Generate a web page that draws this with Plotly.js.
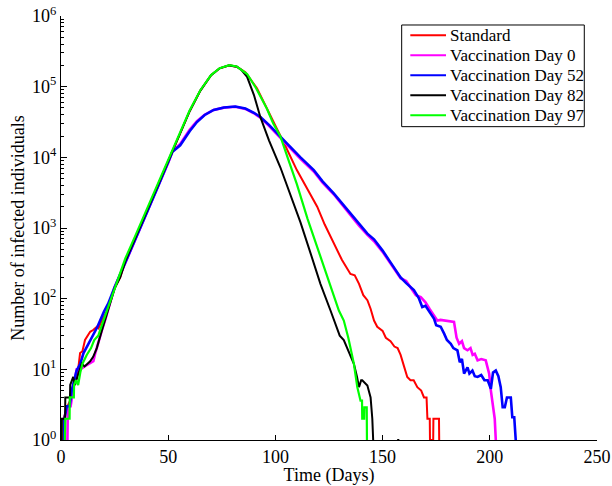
<!DOCTYPE html>
<html>
<head>
<meta charset="utf-8">
<script src="https://cdn.plot.ly/plotly-3.0.1.min.js"></script>
<style>html,body{margin:0;padding:0;background:#fff;}#chart{width:612px;height:486px;}</style>
</head>
<body>
<div id="chart"></div>
<script>
// Series names
const seriesNames = ["Standard", "Vaccination Day 0", "Vaccination Day 52", "Vaccination Day 82", "Vaccination Day 97"];
const seriesColors = ["#ff0000", "#ff00ff", "#0000ff", "#000000", "#00ff00"];

// Standard (red)
const stdDays = [1, 1.2, 3, 5, 5.7, 7, 8, 8.9, 10, 11.2, 13.6, 15, 16.7, 17.5, 19, 21.3, 23, 25, 27.6, 30, 35, 40, 45, 50, 55, 60, 65, 70, 74, 78.5, 82, 86, 91.4, 96, 100.8, 105, 110, 115, 119.5, 123, 127.2, 131, 135, 137, 139, 141, 142.9, 144.4, 146, 147.5, 150, 151.5, 153.7, 155.5, 157, 158.4, 160, 161.5, 163, 164.5, 166.2, 168, 169.3, 170.5, 170.9, 172.0, 172.1, 173.6, 173.7, 176.3, 176.4];
const stdInfected = [1, 2, 3, 4, 5, 8, 10, 17, 18, 26, 34, 36, 40, 38, 49, 66, 90, 140, 200, 330, 750, 1700, 3900, 8800, 20000, 45000, 88000, 145000, 182000, 200000, 192000, 160000, 95000, 50000, 25000, 13800, 6600, 3500, 2000, 1120, 600, 355, 224, 214, 162, 112, 95, 72, 49, 40, 35, 28, 25, 21, 20, 16, 11, 7.8, 7, 7, 5.6, 5, 4, 4, 2, 2, 1, 1, 2, 2, 1];

// Vaccination Day 0 (magenta)
const vac0Days = [3, 3.2, 4.5, 5, 6, 7.3, 9, 11, 13, 15.1, 16, 17.4, 19, 21, 23, 25, 30, 35, 40, 45, 50, 52, 55.6, 58, 60, 63.4, 67, 71.2, 76, 81.3, 86, 90, 93, 97, 100.8, 107, 111.7, 117.9, 122, 127.2, 131, 135, 139, 142.9, 146, 150, 154, 158.4, 161, 164, 165.5, 167.8, 170, 172, 174, 175.5, 177, 180, 183.3, 184.5, 185.7, 187, 188, 189.6, 191, 192, 193, 194.3, 196, 198.1, 199.7, 200.5, 201.5, 202.3, 202.8];
const vac0Infected = [1, 3, 3, 4, 6, 10, 10, 11, 12, 13, 17, 23, 35, 55, 90, 145, 320, 740, 1680, 3750, 8400, 12200, 15500, 20000, 24500, 32500, 40000, 46800, 50500, 52000, 48500, 42000, 36500, 28000, 21000, 13200, 9500, 6300, 4400, 3000, 2150, 1520, 1080, 800, 650, 460, 300, 195, 178, 132, 112, 105, 89, 71, 56, 49, 50, 48, 47, 28, 23, 25, 20, 18.6, 20, 16, 16.6, 13.4, 14, 13.4, 8.7, 5, 2.9, 2, 1];

// Vaccination Day 52 (blue)
const vac52Days = [1.5, 1.6, 2.7, 4, 5, 7.3, 9, 10.5, 12.8, 15, 17, 20, 22, 25, 30, 35, 40, 45, 50, 52, 55.6, 58, 60, 63.4, 67, 71.2, 76, 81.3, 86, 90, 93, 97, 100.8, 107, 111.7, 117.9, 122, 127.2, 131, 135, 139, 142.9, 146, 150, 154, 158.4, 161, 164.6, 167, 168.5, 170, 172.4, 174, 175, 177.1, 178.7, 180, 181.8, 183, 184.9, 186, 187, 188, 189.6, 190.5, 191.9, 193, 194.3, 196, 197.5, 199, 200.5, 201.5, 202.8, 204, 205.1, 206, 207, 208, 209.8, 210.5, 211.4, 212.1];
const vac52Infected = [1, 2, 3, 3, 5, 9.6, 12, 17, 23, 30, 40, 65, 85, 145, 320, 730, 1650, 3700, 8300, 12000, 14800, 19000, 23400, 31600, 39800, 46800, 50700, 52500, 49000, 42700, 37200, 28800, 21900, 13800, 10000, 6600, 4570, 3090, 2240, 1585, 1120, 832, 692, 479, 316, 200, 166, 132, 100, 76, 79, 62, 52, 42, 40, 32, 26, 23, 20, 18.5, 12.6, 14, 8.7, 10.7, 8.7, 9.6, 8, 7.8, 8.3, 7, 7, 5.3, 9, 9.6, 8, 5.6, 2.9, 2.9, 4, 4, 2.1, 2.1, 1];

// Vaccination Day 82 (black)
const vac82Days = [0.3, 0.4, 1.9, 2, 4.2, 4.3, 5.7, 6.5, 8.1, 9.7, 11, 13.6, 15, 16.7, 19, 21.3, 23, 25, 27.6, 30, 35, 40, 45, 50, 55, 60, 65, 70, 74, 78.5, 82, 84, 86.8, 90, 93, 97, 102.3, 107, 111.7, 116, 121, 125.7, 128, 130, 131.9, 134, 136.6, 138, 139, 140, 140.5, 142.9, 144.4, 145.2, 145.6, null, 156.8, 157.8];
const vac82Infected = [1, 2, 2, 4, 4, 6, 7.8, 6, 8.7, 12, 11, 13, 15, 20, 35, 61, 90, 140, 200, 340, 770, 1750, 3900, 8800, 20000, 45000, 88000, 145000, 182000, 200000, 192000, 174000, 138000, 76000, 37000, 17400, 7240, 2950, 1200, 479, 162, 68, 45, 30, 26, 18, 12, 8, 5.6, 7, 7, 5.9, 4, 2, 1, null, 1, 1];

// Vaccination Day 97 (green)
const vac97Days = [1.8, 2, 4, 4.1, 6, 6.1, 7, 8, 9, 10, 12, 14, 15.5, 17.4, 19, 21, 23, 25, 27.6, 30, 35, 40, 45, 50, 55, 60, 65, 70, 74, 78.5, 82, 86.8, 91, 96, 99, 102.3, 106, 110, 115, 120, 125, 129.6, 131.9, 134, 136.6, 138.2, 139.7, 140.4, 140.5, 141.4, 141.5, 142.6, 142.7];
const vac97Infected = [1, 2, 2, 4, 4, 6, 7, 6, 9, 12, 16, 20, 26, 30, 42, 62, 90, 140, 220, 370, 820, 1850, 4100, 9200, 20500, 46000, 89000, 146000, 183000, 201000, 193000, 151000, 95000, 49000, 30000, 19950, 9330, 4170, 1350, 479, 174, 68, 49, 28, 12, 5.6, 3.6, 3.6, 2, 2, 2.9, 2.9, 1];

// Axis ticks
const xTickVals = [0, 50, 100, 150, 200, 250];
const yTickVals = [1, 10, 100, 1000, 10000, 100000, 1000000];
const yTickText = ["10<sup>0</sup>", "10<sup>1</sup>", "10<sup>2</sup>", "10<sup>3</sup>", "10<sup>4</sup>", "10<sup>5</sup>", "10<sup>6</sup>"];

const allDays = [stdDays, vac0Days, vac52Days, vac82Days, vac97Days];
const allInfected = [stdInfected, vac0Infected, vac52Infected, vac82Infected, vac97Infected];
const widths = [2, 2.6, 2.6, 2, 2.2];

const traces = seriesNames.map((name, i) => ({
  type: 'scatter',
  mode: 'lines',
  name: name,
  x: allDays[i],
  y: allInfected[i],
  line: {color: seriesColors[i], width: widths[i]},
  connectgaps: false,
  showlegend: false
}));

// minor ticks for log axis
const minorVals = [];
for (let d = 0; d < 6; d++) {
  for (let m = 2; m <= 9; m++) minorVals.push(m * Math.pow(10, d));
}

const serif = 'Liberation Serif';

// Legend drawn as a boxed key (paper coordinates)
const legBox = {x0: 0.6356, x1: 0.9763, y0: 0.739, y1: 0.9788};
const legLineX0 = 0.6517, legLineX1 = 0.7183, legTextX = 0.7227;
const legTop = 0.9545, legStep = 0.0472;
const shapes = [{
  type: 'rect', xref: 'paper', yref: 'paper',
  x0: legBox.x0, x1: legBox.x1, y0: legBox.y0, y1: legBox.y1,
  line: {color: '#000', width: 1}, fillcolor: '#ffffff', layer: 'above'
}];
const annotations = [];
seriesNames.forEach((name, i) => {
  const yy = legTop - i * legStep;
  shapes.push({type: 'line', xref: 'paper', yref: 'paper', x0: legLineX0, x1: legLineX1, y0: yy, y1: yy,
    line: {color: seriesColors[i], width: 2}, layer: 'above'});
  annotations.push({xref: 'paper', yref: 'paper', x: legTextX, y: yy, xanchor: 'left', yanchor: 'middle',
    text: name, showarrow: false, font: {family: serif, size: 17, color: '#000'}});
});

const layout = {
  width: 612,
  height: 486,
  margin: {l: 61, r: 15, t: 16, b: 46},
  paper_bgcolor: '#ffffff',
  plot_bgcolor: '#ffffff',
  font: {family: serif, size: 16, color: '#000'},
  showlegend: false,
  shapes: shapes,
  annotations: annotations,
  xaxis: {
    range: [0, 250],
    tickmode: 'array',
    tickvals: xTickVals,
    ticks: 'inside', ticklen: 5, tickwidth: 1, tickcolor: '#000',
    showline: true, linecolor: '#000', linewidth: 1,
    showgrid: false, zeroline: false,
    tickfont: {family: serif, size: 18, color: '#000'},
    title: {text: 'Time (Days)', font: {family: serif, size: 18, color: '#000'}, standoff: 0}
  },
  yaxis: {
    type: 'log',
    range: [0, 6],
    tickmode: 'array',
    tickvals: yTickVals,
    ticktext: yTickText,
    ticks: 'inside', ticklen: 6, tickwidth: 1, tickcolor: '#000',
    minor: {tickmode: 'array', tickvals: minorVals, ticks: 'inside', ticklen: 3, tickcolor: '#000', showgrid: false},
    showline: true, linecolor: '#000', linewidth: 1,
    showgrid: false, zeroline: false,
    tickfont: {family: serif, size: 18, color: '#000'},
    title: {text: 'Number of infected individuals', font: {family: serif, size: 18, color: '#000'}, standoff: 2}
  }
};

Plotly.newPlot('chart', traces, layout, {displayModeBar: false, staticPlot: true});
</script>
</body>
</html>
